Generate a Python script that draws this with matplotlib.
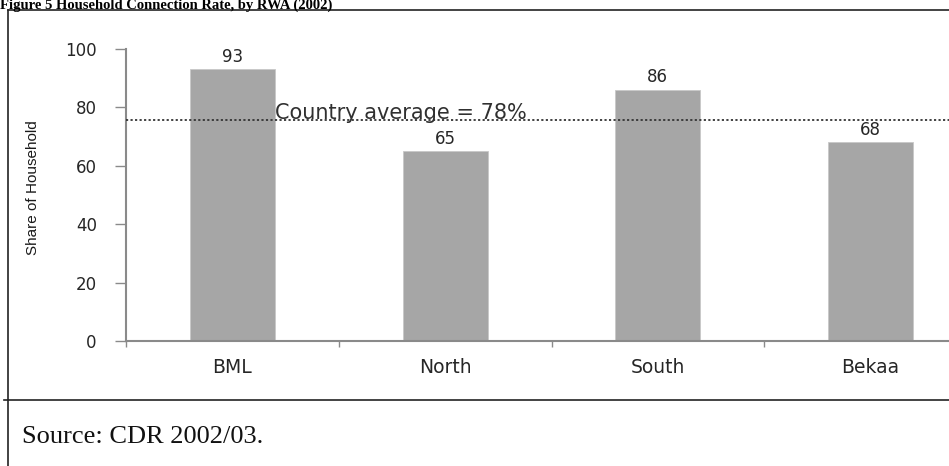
import matplotlib
matplotlib.use("Agg")
import matplotlib.pyplot as plt
from matplotlib.lines import Line2D

# data
regioes = ["BML", "North", "South", "Bekaa"]
taxa_ligacao = [93, 65, 86, 68]
linha_media = 75.6          # where the dotted line actually sits
texto_media = "Country average = 78%"
yticks = [0, 20, 40, 60, 80, 100]

fig = plt.figure(figsize=(9.49, 4.66), dpi=100)
W, H = 949, 466

def fx(px):
    return px / W

def fy(py):
    return 1 - py / H

# axes placed so the category spacing matches the reference (right part cropped)
ax = fig.add_axes([fx(126), fy(341), 851 / W, 292 / H])

cinza = "#a6a6a6"
eixo_cor = "#8a8a8a"
texto_cor = "#262626"

x = range(len(regioes))
ax.bar(x, taxa_ligacao, width=0.4, color=cinza, edgecolor="#c8c8c8", linewidth=0.6, zorder=2)

for i, v in zip(x, taxa_ligacao):
    ax.annotate(str(v), (i, v), xytext=(0, 9), textcoords="offset points",
                ha="center", va="center", fontsize=12, color=texto_cor,
                family="DejaVu Sans")

ax.axhline(linha_media, color="#333333", linewidth=1.3, linestyle=(0, (1.2, 1.3)),
           zorder=3, clip_on=False)
ax.annotate(texto_media, (0.2, linha_media), xytext=(0, 1), textcoords="offset points",
            ha="left", va="baseline", fontsize=15, color="#303030", family="DejaVu Sans")

ax.set_xlim(-0.5, len(regioes) - 0.5)
ax.set_ylim(0, 100)
ax.set_yticks(yticks)
ax.set_xticks(list(x))
ax.set_xticklabels(regioes)
ax.set_xticks([i - 0.5 for i in range(len(regioes) + 1)], minor=True)

for lado in ["top", "right"]:
    ax.spines[lado].set_visible(False)
for lado in ["left", "bottom"]:
    ax.spines[lado].set_color(eixo_cor)
    ax.spines[lado].set_linewidth(1.5)

ax.tick_params(axis="y", direction="out", length=8, width=1, color=eixo_cor,
               pad=13, labelsize=12, labelcolor=texto_cor)
ax.tick_params(axis="x", which="major", length=0, pad=12, labelsize=13.5, labelcolor=texto_cor)
ax.tick_params(axis="x", which="minor", direction="out", length=4, width=1, color=eixo_cor)
for lab in ax.get_xticklabels() + ax.get_yticklabels():
    lab.set_family("DejaVu Sans")

fig.text(fx(33), fy(188), "Share of Household", rotation=90, ha="center", va="center",
         fontsize=11, color="#1a1a1a", family=["Liberation Sans Narrow", "Liberation Sans"])

# title, squeezed into the strip above the top frame line
fig.text(fx(0), fy(8.5), "Figure 5 Household Connection Rate, by RWA (2002)",
         ha="left", va="baseline", fontsize=10.5, fontweight="bold",
         family=["Liberation Serif", "DejaVu Serif"], color="black")

fig.text(fx(22), fy(437), "Source: CDR 2002/03.", ha="left", va="center",
         fontsize=19, family=["Liberation Serif", "DejaVu Serif"], color="#111111")

# frame lines of the document box
fig.add_artist(Line2D([fx(8), 1], [fy(10), fy(10)], color="#222222", linewidth=1.2))
fig.add_artist(Line2D([fx(8), fx(8)], [fy(10), 0], color="#222222", linewidth=1.2))
fig.add_artist(Line2D([fx(4), 1], [fy(400), fy(400)], color="#222222", linewidth=1.2))

fig.savefig("out.png", dpi=100)
